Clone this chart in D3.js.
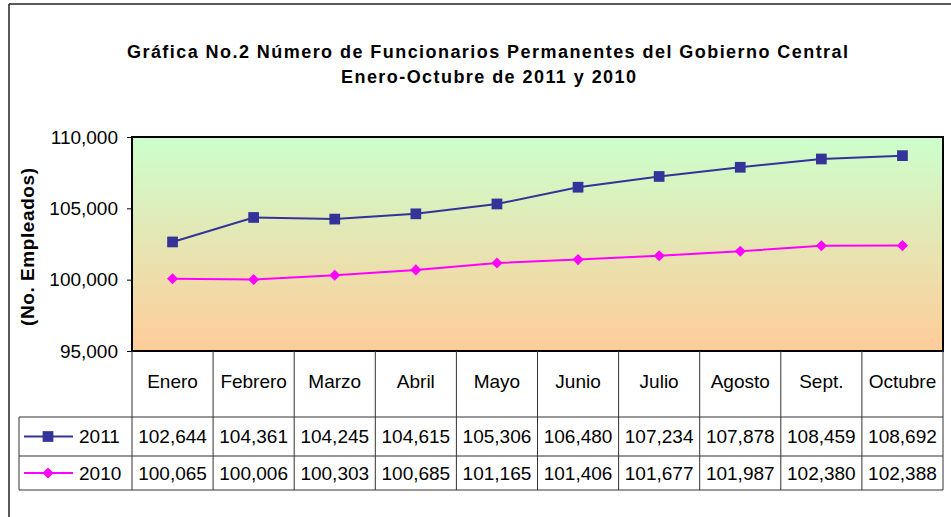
<!doctype html>
<html lang="es">
<head>
<meta charset="utf-8">
<style>
body { margin: 0; background: #fff; }
svg { display: block; }
text { font-family: 'Liberation Sans', Arial, sans-serif; fill: #000; }
text.title { font-size: 18px; font-weight: 700; }
text.cell { font-size: 19px; }
text.ylabel { font-size: 19px; font-weight: 700; }
</style>
<script src="https://d3js.org/d3.v7.min.js"></script>
</head>
<body>
<svg width="951" height="517"></svg>
<script>
const months = ['Enero', 'Febrero', 'Marzo', 'Abril', 'Mayo', 'Junio', 'Julio', 'Agosto', 'Sept.', 'Octubre'];
const values2011 = [102644, 104361, 104245, 104615, 105306, 106480, 107234, 107878, 108459, 108692];
const values2010 = [100065, 100006, 100303, 100685, 101165, 101406, 101677, 101987, 102380, 102388];
const yTicks = [95000, 100000, 105000, 110000];
const seriesNames = ['2011', '2010'];

const svg = d3.select('svg');

// plot box
const plotL = 132, plotR = 943, plotT = 137, plotB = 351;
// table rows
const headBottom = 417, row1Bottom = 456, row2Bottom = 490, legendLeft = 19;

const x = d3.scaleBand().domain(months).range([plotL, plotR]).padding(0);
const y = d3.scaleLinear().domain([95000, 110000]).range([plotB, plotT]);
const fmt = d3.format(',');

// outer frame (only top and left visible)
svg.append('line').attr('x1', 9).attr('y1', 4).attr('x2', 951).attr('y2', 4)
  .attr('stroke', '#222').attr('stroke-width', 1.5);
svg.append('line').attr('x1', 9).attr('y1', 4).attr('x2', 9).attr('y2', 517)
  .attr('stroke', '#222').attr('stroke-width', 1.5);

// title
svg.append('text').attr('class', 'title')
  .attr('x', 487.5).attr('y', 58).attr('text-anchor', 'middle')
  .attr('textLength', 721).attr('lengthAdjust', 'spacing')
  .text('Gráfica No.2 Número de Funcionarios Permanentes del Gobierno Central');
svg.append('text').attr('class', 'title')
  .attr('x', 488.5).attr('y', 83).attr('text-anchor', 'middle')
  .attr('textLength', 295).attr('lengthAdjust', 'spacing')
  .text('Enero-Octubre de 2011 y 2010');

// background gradient
const defs = svg.append('defs');
const grad = defs.append('linearGradient').attr('id', 'bg')
  .attr('x1', 0).attr('y1', 0).attr('x2', 0).attr('y2', 1);
grad.append('stop').attr('offset', '0%').attr('stop-color', '#ccffcc');
grad.append('stop').attr('offset', '100%').attr('stop-color', '#ffcc99');

svg.append('rect')
  .attr('x', plotL).attr('y', plotT)
  .attr('width', plotR - plotL).attr('height', plotB - plotT)
  .attr('fill', 'url(#bg)');

// y axis
const yAxis = svg.append('g')
  .attr('transform', `translate(${plotL},0)`)
  .call(d3.axisLeft(y).tickValues(yTicks).tickFormat(fmt).tickSize(5).tickPadding(9));
yAxis.select('.domain').remove();
yAxis.selectAll('.tick line').attr('stroke', '#000');
yAxis.selectAll('.tick text')
  .style('font-family', "'Liberation Sans', Arial, sans-serif")
  .style('font-size', '19px')
  .attr('fill', '#000');

svg.append('text').attr('class', 'ylabel')
  .attr('transform', `translate(34, ${(plotT + plotB) / 2 + 3}) rotate(-90)`)
  .attr('text-anchor', 'middle')
  .attr('textLength', 158).attr('lengthAdjust', 'spacing')
  .text('(No. Empleados)');

// lines
const cx = (m) => x(m) + x.bandwidth() / 2;
const line = d3.line().x((d, i) => cx(months[i])).y((d) => y(d));

svg.append('path').datum(values2011)
  .attr('fill', 'none').attr('stroke', '#333399').attr('stroke-width', 2)
  .attr('d', line);
svg.append('path').datum(values2010)
  .attr('fill', 'none').attr('stroke', '#ff00ff').attr('stroke-width', 2)
  .attr('d', line);

const square = d3.symbol().type(d3.symbolSquare).size(115);
const diamond = d3.symbol().type(d3.symbolDiamond2).size(78);

svg.selectAll('.m2011').data(values2011).enter().append('path')
  .attr('class', 'm2011')
  .attr('transform', (d, i) => `translate(${cx(months[i])},${y(d)})`)
  .attr('d', square).attr('fill', '#333399');
svg.selectAll('.m2010').data(values2010).enter().append('path')
  .attr('class', 'm2010')
  .attr('transform', (d, i) => `translate(${cx(months[i])},${y(d)})`)
  .attr('d', diamond).attr('fill', '#ff00ff');

// plot border
svg.append('rect')
  .attr('x', plotL).attr('y', plotT)
  .attr('width', plotR - plotL).attr('height', plotB - plotT)
  .attr('fill', 'none').attr('stroke', '#000').attr('stroke-width', 2);

// data table
const tbl = svg.append('g');
const tcol = '#333';
months.forEach((m) => {
  tbl.append('line').attr('x1', x(m)).attr('x2', x(m))
    .attr('y1', plotB).attr('y2', row2Bottom).attr('stroke', tcol);
});
tbl.append('line').attr('x1', plotR).attr('x2', plotR)
  .attr('y1', plotB).attr('y2', row2Bottom).attr('stroke', tcol);
tbl.append('line').attr('x1', legendLeft).attr('x2', legendLeft)
  .attr('y1', headBottom).attr('y2', row2Bottom).attr('stroke', tcol);
[headBottom, row1Bottom, row2Bottom].forEach((yy) => {
  tbl.append('line').attr('x1', legendLeft).attr('x2', plotR)
    .attr('y1', yy).attr('y2', yy).attr('stroke', tcol);
});

// header
tbl.selectAll('.hd').data(months).enter().append('text')
  .attr('class', 'cell')
  .attr('x', (m) => cx(m)).attr('y', 388)
  .attr('text-anchor', 'middle')
  .text((m) => m);

// rows
const rows = [
  { name: seriesNames[0], values: values2011, color: '#333399', sym: square, yb: 443, ym: (headBottom + row1Bottom) / 2 },
  { name: seriesNames[1], values: values2010, color: '#ff00ff', sym: diamond, yb: 480, ym: (row1Bottom + row2Bottom) / 2 }
];

rows.forEach((r) => {
  tbl.selectAll(null).data(r.values).enter().append('text')
    .attr('class', 'cell')
    .attr('x', (d, i) => cx(months[i])).attr('y', r.yb)
    .attr('text-anchor', 'middle')
    .text((d) => fmt(d));
  tbl.append('line').attr('x1', 24).attr('x2', 73)
    .attr('y1', r.ym).attr('y2', r.ym)
    .attr('stroke', r.color).attr('stroke-width', 2);
  tbl.append('path').attr('transform', `translate(48,${r.ym})`)
    .attr('d', r.sym).attr('fill', r.color);
  tbl.append('text').attr('class', 'cell')
    .attr('x', 79).attr('y', r.yb)
    .text(r.name);
});
</script>
</body>
</html>
